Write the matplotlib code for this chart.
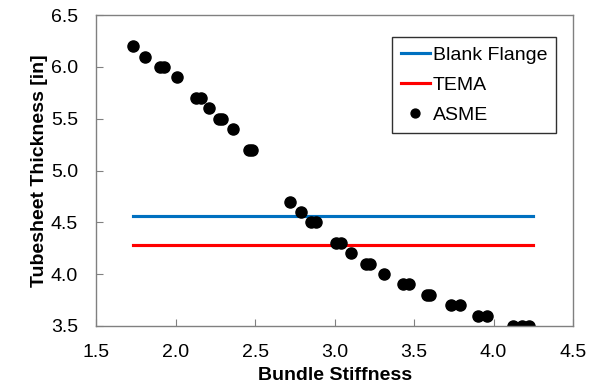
import matplotlib.pyplot as plt

plt.rcParams["font.family"] = ["Liberation Sans", "DejaVu Sans"]

# ASME points
asme_x = [1.73, 1.81, 1.90, 1.93, 2.01, 2.13, 2.16, 2.21, 2.27, 2.29, 2.36,
          2.46, 2.48, 2.72, 2.79, 2.85, 2.88, 3.01, 3.04, 3.10, 3.20, 3.22,
          3.31, 3.43, 3.47, 3.58, 3.60, 3.73, 3.79, 3.90, 3.96, 4.12, 4.18,
          4.22]
asme_y = [6.2, 6.1, 6.0, 6.0, 5.9, 5.7, 5.7, 5.6, 5.5, 5.5, 5.4,
          5.2, 5.2, 4.7, 4.6, 4.5, 4.5, 4.3, 4.3, 4.2, 4.1, 4.1,
          4.0, 3.9, 3.9, 3.8, 3.8, 3.7, 3.7, 3.6, 3.6, 3.5, 3.5,
          3.5]

line_x = [1.73, 4.25]
blank_flange = [4.56, 4.56]
tema = [4.28, 4.28]

fig = plt.figure(figsize=(5.97, 3.88), dpi=100)
ax = fig.add_axes([0.161, 0.160, 0.799, 0.801])

ax.plot(line_x, blank_flange, color="#0070C0", linewidth=2.25, label="Blank Flange")
ax.plot(line_x, tema, color="#FF0000", linewidth=2.25, label="TEMA")
ax.plot(asme_x, asme_y, "o", color="black", markersize=8, label="ASME")

ax.set_xlim(1.5, 4.5)
ax.set_ylim(3.5, 6.5)
ax.set_xticks([1.5, 2.0, 2.5, 3.0, 3.5, 4.0, 4.5])
ax.set_yticks([3.5, 4.0, 4.5, 5.0, 5.5, 6.0, 6.5])
ax.xaxis.set_major_formatter(plt.FormatStrFormatter("%.1f"))
ax.yaxis.set_major_formatter(plt.FormatStrFormatter("%.1f"))
ax.tick_params(direction="in", length=5, color="#808080", labelsize=14)
ax.tick_params(axis="x", pad=13)
ax.tick_params(axis="y", pad=13)

for s in ax.spines.values():
    s.set_color("#808080")
    s.set_linewidth(1)

ax.set_xlabel("Bundle Stiffness", fontsize=14, fontweight="bold", labelpad=4)
ax.set_ylabel("Tubesheet Thickness [in]", fontsize=14, fontweight="bold", labelpad=2)

leg = ax.legend(loc="upper right", bbox_to_anchor=(0.964, 0.929), borderaxespad=0,
                fontsize=14, fancybox=False, edgecolor="#303030", framealpha=1,
                handlelength=1.5, handletextpad=0.15, borderpad=0.45,
                labelspacing=0.65, markerscale=0.8)
leg.get_frame().set_linewidth(1)

fig.savefig("out.png", dpi=100)
